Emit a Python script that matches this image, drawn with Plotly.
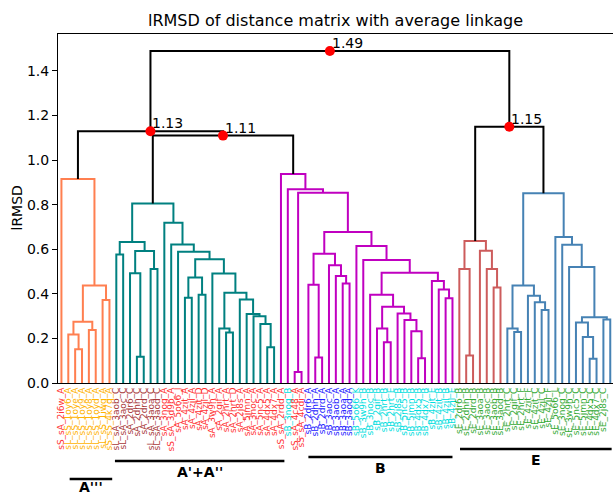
import plotly.graph_objects as go

# ---------------- data ----------------
LEAF_LABELS = [
    "sS_sA_2i6w_A", "sL_sS_1oy6_A", "sL_sS_1oye_A", "sL_sS_1oy9_A", "sL_sS_1oy8_A",
    "sL_sS_1oyd_A", "sL_sS_1iwg_A", "sS_sS_4k7q_A",
    "sL_sA_3aob_C", "sL_sA_3aoc_C", "sA_2dr6_C", "sA_2dhh_C", "sA_2drd_C",
    "sL_sA_3aoa_C", "sL_sA_3aod_C",
    "sA_3nog_A", "sS_sA_3d9b_A", "sA_5o66_J", "sA_4zit_A", "sA_4zjl_A", "sA_4zit_D",
    "sA_4zjl_D", "sA_3w9h_A", "sA_2gif_A", "sA_2hrt_A", "sA_2hrt_D", "sA_2j8s_A",
    "sA_5jmn_A", "sA_3noc_A", "sA_5nc5_A", "sA_4dx5_A", "sA_4dx7_A",
    "sS_sA_2rdd_A", "sB_3nog_B", "sS_sA_4c48_A", "sS_sA_4cdi_A",
    "sB_2dr6_A", "sB_2dhh_A", "sB_2drd_A", "sB_3aoc_A", "sB_3aob_A", "sB_3aoa_A", "sB_3aod_A",
    "sB_5o66_K", "sB_3w9h_B", "sB_3noc_B", "sB_2gif_B", "sB_2hrt_B", "sB_2hrt_E",
    "sB_2j8s_B", "sB_5nc5_B", "sB_5jmn_B", "sB_4dx5_B", "sB_4dx7_B", "sB_4zit_E",
    "sB_4zit_B", "sB_4zjl_B", "sB_4zjl_E",
    "sE_2dr6_B", "sE_2dhh_B", "sE_2drd_B", "sE_3aoa_B", "sE_3aoc_B", "sE_3aob_B", "sE_3aod_B",
    "sE_2hrt_C", "sE_2gif_C", "sE_2hrt_F", "sE_4zit_F", "sE_4zit_C", "sE_4zjl_C", "sE_4zjl_F",
    "sE_5o66_L", "sE_3nog_C", "sE_3w9h_C", "sE_5nc5_C", "sE_5jmn_C", "sE_4dx5_C",
    "sE_4dx7_C", "sE_2j8s_C", "sE_3noc_C",
]

# label colour groups (run lengths along the leaf order)
LABEL_GROUP_RUNS = [("sA", 1), ("sS", 7), ("C", 7), ("sA", 18), ("sBc", 1), ("sA", 2),
                    ("sB", 7), ("sBc", 15), ("sE", 23)]

# clusters (run lengths along the leaf order)
CLUSTER_NAMES = ["orange", "teal", "magenta", "red", "blue"]
CLUSTER_SIZES = [8, 24, 26, 7, 16]

# linkage: (left id, right id, height); ids >= 81 refer to earlier merges (81 + row)
MERGES = [
    # orange
    (2, 3, 0.151), (1, 81, 0.218), (4, 5, 0.238), (82, 83, 0.275), (6, 7, 0.372),
    (84, 85, 0.438), (0, 86, 0.915),
    # teal
    (8, 9, 0.577), (11, 12, 0.118), (10, 89, 0.492), (13, 14, 0.511), (90, 91, 0.592),
    (88, 92, 0.633), (18, 19, 0.383), (20, 21, 0.396), (94, 95, 0.473), (24, 25, 0.227),
    (23, 97, 0.245), (30, 31, 0.160), (29, 99, 0.265), (28, 100, 0.300), (27, 101, 0.310),
    (26, 102, 0.375), (98, 103, 0.405), (22, 104, 0.491), (96, 105, 0.555),
    (17, 106, 0.589), (16, 107, 0.622), (15, 108, 0.719), (93, 109, 0.805),
    # magenta
    (34, 35, 0.049), (37, 38, 0.114), (36, 112, 0.441), (41, 42, 0.447), (40, 114, 0.480),
    (39, 115, 0.528), (113, 116, 0.580), (47, 48, 0.183), (46, 118, 0.244), (52, 53, 0.111),
    (51, 120, 0.232), (50, 121, 0.283), (49, 122, 0.312), (119, 123, 0.342),
    (45, 124, 0.396), (56, 57, 0.380), (55, 126, 0.420), (54, 127, 0.458),
    (125, 128, 0.495), (44, 129, 0.552), (43, 130, 0.615), (117, 131, 0.677),
    (111, 132, 0.854), (33, 133, 0.869), (32, 134, 0.938),
    # red
    (59, 60, 0.123), (58, 136, 0.511), (63, 64, 0.428), (62, 138, 0.511), (61, 139, 0.593),
    (137, 140, 0.637),
    # blue
    (66, 67, 0.229), (65, 142, 0.244), (70, 71, 0.328), (69, 144, 0.362), (68, 145, 0.392),
    (143, 146, 0.437), (77, 78, 0.109), (76, 148, 0.206), (75, 149, 0.272), (79, 80, 0.285),
    (150, 151, 0.295), (74, 152, 0.520), (73, 153, 0.620), (72, 154, 0.655),
    (147, 155, 0.851),
    # top level
    (110, 135, 1.11), (87, 157, 1.13), (141, 156, 1.15), (158, 159, 1.49),
]

GROUP_NAMES = ["A'''", "A'+A''", "B", "E"]

Y_TICKS = [0.0, 0.2, 0.4, 0.6, 0.8, 1.0, 1.2, 1.4]

# ---------------- styles ----------------
CLUSTER_COLORS = {"orange": "#FF7F50", "teal": "#008080", "magenta": "#C000C0",
                  "red": "#CD5C5C", "blue": "#4682B4"}
ABOVE_COLOR = "black"
LABEL_COLORS = {"sA": "#ff3333", "sS": "#ffb300", "C": "#a83a3a", "sB": "#2222ff",
                "sBc": "#00dede", "sE": "#33aa33"}
FONT = "DejaVu Sans"

# group bracket placement (data x units, pixel offsets below axis)
GROUP_SPANS = [(17, 79), (83, 330), (365, 575), (586, 807)]
GROUP_LINE_OFFSETS = [96, 78, 74, 66]
GROUP_TEXT_GAPS = [8, 11, 11, 11]

W, H = 613, 495
ML, MR, MT, MB = 58, 0, 34, 112
PLOT_H = H - MT - MB

# ---------------- build ----------------
N = len(LEAF_LABELS)
leaf_cluster = []
for name, n in zip(CLUSTER_NAMES, CLUSTER_SIZES):
    leaf_cluster += [name] * n
label_groups = []
for g, n in LABEL_GROUP_RUNS:
    label_groups += [g] * n

xpos = {i: 5 + 10 * i for i in range(N)}
hgt = {i: 0.0 for i in range(N)}
members = {i: {leaf_cluster[i]} for i in range(N)}

segs = {}
top_nodes = []
for k, (a, b, h) in enumerate(MERGES):
    node = N + k
    xpos[node] = (xpos[a] + xpos[b]) / 2
    hgt[node] = h
    members[node] = members[a] | members[b]
    if len(members[node]) == 1:
        col = CLUSTER_COLORS[next(iter(members[node]))]
    else:
        col = ABOVE_COLOR
        top_nodes.append(node)
    xs, ys = segs.setdefault(col, ([], []))
    xs += [xpos[a], xpos[a], xpos[b], xpos[b], None]
    ys += [hgt[a], h, h, hgt[b], None]

fig = go.Figure()
for col, (xs, ys) in segs.items():
    fig.add_trace(go.Scatter(x=xs, y=ys, mode="lines", line=dict(color=col, width=2),
                             hoverinfo="skip", showlegend=False))

fig.add_trace(go.Scatter(x=[xpos[n] for n in top_nodes], y=[hgt[n] for n in top_nodes],
                         mode="markers", marker=dict(color="red", size=10),
                         showlegend=False, hoverinfo="skip", cliponaxis=False))
for n in top_nodes:
    fig.add_annotation(x=xpos[n], y=hgt[n], text=f"{hgt[n]:.2f}", showarrow=False,
                       xanchor="left", yanchor="bottom", xshift=0, yshift=-2,
                       font=dict(family=FONT, size=14, color="black"))

ticktext = [f'<span style="color:{LABEL_COLORS[g]}">{t}</span>'
            for t, g in zip(LEAF_LABELS, label_groups)]

for name, (x0, x1), off, gap in zip(GROUP_NAMES, GROUP_SPANS, GROUP_LINE_OFFSETS,
                                    GROUP_TEXT_GAPS):
    yp = -off / PLOT_H
    fig.add_shape(type="line", xref="x", yref="paper", x0=x0, x1=x1, y0=yp, y1=yp,
                  line=dict(color="black", width=2.5))
    fig.add_annotation(x=(x0 + x1) / 2, xref="x", y=-(off + gap) / PLOT_H, yref="paper",
                       text=f"<b>{name}</b>", showarrow=False, xanchor="center",
                       yanchor="middle", font=dict(family=FONT, size=14, color="black"))

fig.add_annotation(x=-(ML - 16) / (W - ML - MR), xref="paper", y=0.5, yref="paper",
                   text="lRMSD", textangle=-90, showarrow=False, xanchor="center",
                   yanchor="middle", font=dict(family=FONT, size=14, color="black"))

fig.update_layout(
    width=W, height=H, margin=dict(l=ML, r=MR, t=MT, b=MB),
    paper_bgcolor="white", plot_bgcolor="white",
    title=dict(text="lRMSD of distance matrix with average linkage", x=0.5, xref="paper",
               xanchor="center", y=(H - 20) / H, yref="container", yanchor="middle",
               font=dict(family=FONT, size=16, color="black")),
    xaxis=dict(range=[0, 10 * N - 1], tickvals=[xpos[i] for i in range(N)],
               ticktext=ticktext, tickangle=-90, ticks="", showgrid=False,
               zeroline=False, showline=True, linecolor="black", linewidth=1,
               mirror=True, automargin=False, tickfont=dict(family=FONT, size=9)),
    yaxis=dict(range=[0, 1.566], tickvals=Y_TICKS, ticktext=[f"{v:.1f}" for v in Y_TICKS],
               ticks="outside", ticklen=5, tickcolor="black", showgrid=False,
               zeroline=False, showline=True, linecolor="black", linewidth=1,
               automargin=False, tickfont=dict(family=FONT, size=14, color="black")),
)

fig.write_html("out.html")
